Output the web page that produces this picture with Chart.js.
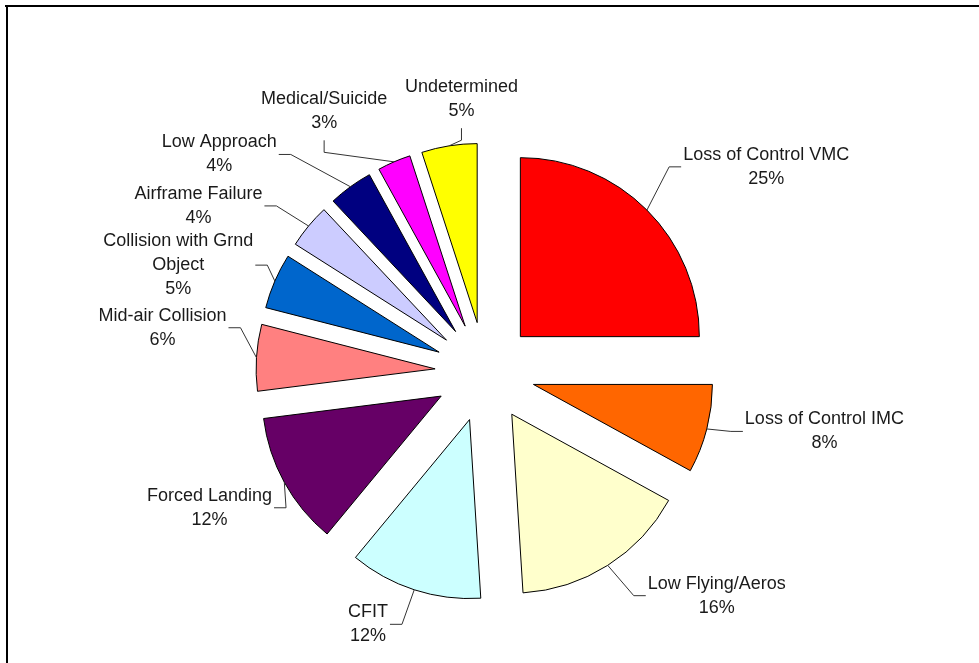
<!DOCTYPE html>
<html>
<head>
<meta charset="utf-8">
<script src="https://cdn.jsdelivr.net/npm/chart.js@4.4.1/dist/chart.umd.min.js"></script>
<style>
  html, body { margin: 0; padding: 0; background: #fff; }
  #wrap { width: 979px; height: 663px; position: relative; }
</style>
</head>
<body>
<div id="wrap"><canvas id="pieChart"></canvas></div>
<script>
// Datos
const categories = [
  'Loss of Control VMC', 'Loss of Control IMC', 'Low Flying/Aeros', 'CFIT',
  'Forced Landing', 'Mid-air Collision', 'Collision with Grnd Object',
  'Airframe Failure', 'Low Approach', 'Medical/Suicide', 'Undetermined'
];
const shares = [25, 8, 16, 12, 12, 6, 5, 4, 4, 3, 5];

// Estilo
const sliceColors = [
  '#ff0000', '#ff6600', '#ffffcc', '#ccffff', '#660066', '#ff8080',
  '#0066cc', '#ccccff', '#000080', '#ff00ff', '#ffff00'
];
const EXPLODE = 50;      // separación de cada porción
const RADIUS = 179;
const GAP = 30;          // distancia del texto al borde del arco
const ELBOW = 12;
const LINE_H = 24;
const FONT = '18px "Liberation Sans", Arial, sans-serif';
// pequeños ajustes de las etiquetas (como hace Excel para no solaparlas)
const labelNudge = [
  [1, -22], [-5, -5], [10, 5], [-3, 6], [28, 11], [14, -28],
  [20, -4], [-9, -1], [-42, -8], [-58, 18], [17, 24]
];

// Separar las porciones del centro
const explodePlugin = {
  id: 'explode',
  afterDatasetUpdate(chart, args) {
    args.meta.data.forEach(arc => {
      const mid = (arc.startAngle + arc.endAngle) / 2;
      arc.x += Math.cos(mid) * EXPLODE;
      arc.y += Math.sin(mid) * EXPLODE;
    });
  }
};

// Marco del gráfico
const framePlugin = {
  id: 'frame',
  beforeDraw(chart) {
    const ctx = chart.ctx;
    ctx.save();
    ctx.fillStyle = '#000';
    ctx.fillRect(5, 5, chart.width - 5, 2);
    ctx.fillRect(6, 5, 2, chart.height - 5);
    ctx.restore();
  }
};

function wrapText(ctx, text, maxW) {
  const words = text.split(' ');
  const lines = [];
  let cur = '';
  words.forEach(w => {
    const test = cur ? cur + ' ' + w : w;
    if (cur && ctx.measureText(test).width > maxW) {
      lines.push(cur);
      cur = w;
    } else {
      cur = test;
    }
  });
  if (cur) lines.push(cur);
  return lines;
}

// Etiquetas con líneas guía
const labelPlugin = {
  id: 'pieLabels',
  afterDatasetsDraw(chart) {
    const ctx = chart.ctx;
    const meta = chart.getDatasetMeta(0);
    const data = chart.data.datasets[0].data;
    const total = data.reduce((a, b) => a + b, 0);
    ctx.save();
    ctx.font = FONT;
    ctx.textAlign = 'center';
    ctx.textBaseline = 'middle';
    meta.data.forEach((arc, i) => {
      const mid = (arc.startAngle + arc.endAngle) / 2;
      const dx = Math.cos(mid), dy = Math.sin(mid);
      const ax = arc.x + dx * arc.outerRadius;
      const ay = arc.y + dy * arc.outerRadius;
      const px = ax + dx * GAP + labelNudge[i][0];
      const py = ay + dy * GAP + labelNudge[i][1];

      const lines = wrapText(ctx, chart.data.labels[i], 180);
      lines.push(Math.round(data[i] / total * 100) + '%');
      const w = Math.max(...lines.map(l => ctx.measureText(l).width));
      const h = lines.length * LINE_H;

      let tx, ty, cx, cy;
      if (dy < -0.85) {
        tx = px; ty = py - ELBOW;
        cx = px; cy = ty - 5 - h / 2;
      } else if (dx >= 0) {
        tx = px + ELBOW; ty = py;
        cx = tx + 2 + w / 2; cy = py;
      } else {
        tx = px - ELBOW; ty = py;
        cx = tx - 2 - w / 2; cy = py;
      }

      ctx.strokeStyle = '#333';
      ctx.lineWidth = 1;
      ctx.beginPath();
      ctx.moveTo(ax, ay);
      ctx.lineTo(px, py);
      ctx.lineTo(tx, ty);
      ctx.stroke();

      ctx.fillStyle = '#1a1a1a';
      lines.forEach((l, k) => {
        ctx.fillText(l, cx, cy - h / 2 + LINE_H / 2 + k * LINE_H);
      });
    });
    ctx.restore();
  }
};

const pieCtx = document.getElementById('pieChart').getContext('2d');
const pieChart = new Chart(pieCtx, {
    type: 'pie',
    data: {
        labels: categories,
        datasets: [{
            data: shares,
            backgroundColor: sliceColors,
            borderColor: '#000',
            borderWidth: 1,
            borderJoinStyle: 'miter',
            radius: RADIUS,
            hoverOffset: 0
        }]
    },
    options: {
        responsive: true,
        maintainAspectRatio: false,
        animation: false,
        events: [],
        layout: { padding: { left: 0, right: 9, top: 81, bottom: 0 } },
        plugins: {
            legend: { display: false },
            tooltip: { enabled: false }
        }
    },
    plugins: [explodePlugin, framePlugin, labelPlugin]
});
</script>
</body>
</html>
